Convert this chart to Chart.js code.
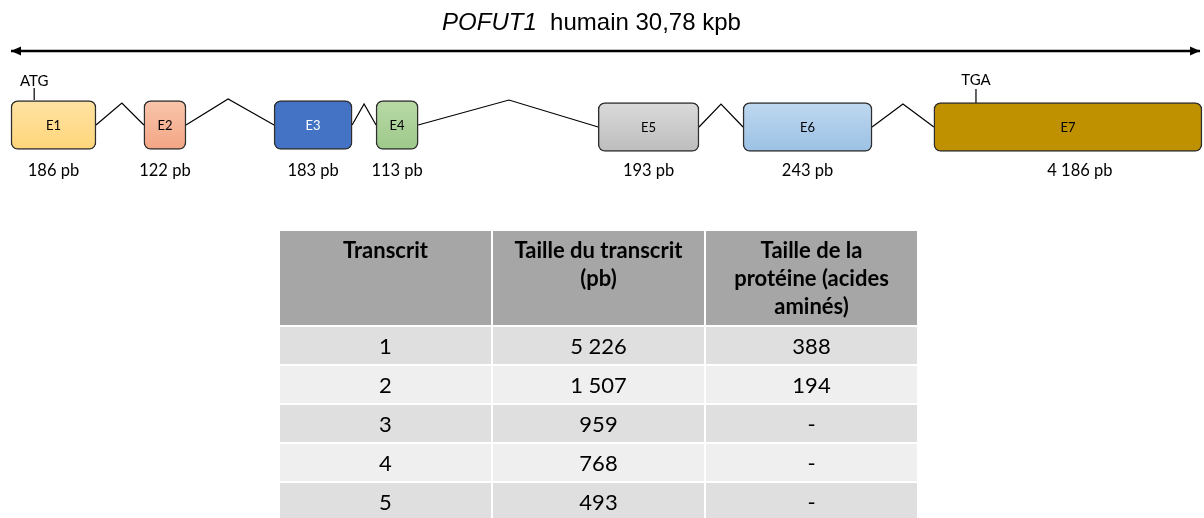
<!DOCTYPE html>
<html>
<head>
<meta charset="utf-8">
<script src="https://cdn.jsdelivr.net/npm/chart.js@4.4.1/dist/chart.umd.min.js"></script>
<style>
  html, body { margin: 0; padding: 0; background: #ffffff; }
  #wrap { position: relative; width: 1204px; height: 518px; overflow: hidden; background: #fff; }
  #c { position: absolute; left: 0; top: 0; }
  #title { position: absolute; left: 0; top: 8px; width: 1183px; text-align: center;
           font-family: "Liberation Sans", Arial, sans-serif; font-size: 24px; line-height: 28px; color: #000; white-space: pre; }
  #title i { font-style: italic; }
  #tbl { position: absolute; left: 278px; top: 229px; border-collapse: separate; border-spacing: 2px;
         font-family: Lato, "Open Sans", sans-serif; color: #000; }
  #tbl th { background: #a6a6a6; width: 211px; height: 94px; padding: 5px 2px 0 2px; box-sizing: border-box;
            vertical-align: top; font-weight: bold; font-size: 22px; line-height: 28px; text-align: center; }
  #tbl td { width: 211px; height: 37px; padding: 0; box-sizing: border-box; text-align: center; vertical-align: middle;
            font-size: 22px; line-height: 37px; }
  #tbl tr.odd td { background: #dfdfdf; }
  #tbl tr.even td { background: #efefef; }
</style>
</head>
<body>
<div id="wrap">
  <canvas id="c" width="1204" height="518"></canvas>
  <div id="title"></div>
  <table id="tbl"><thead><tr id="hdr"></tr></thead><tbody id="body"></tbody></table>
</div>
<script>
// ---------------- DATA ----------------
const geneName = "POFUT1";
const geneLabel = "humain 30,78 kpb";
const geneLengthKb = 30.78;

const exonNames = ["E1", "E2", "E3", "E4", "E5", "E6", "E7"];
const exonSizes = [186, 122, 183, 113, 193, 243, 4186];           // pb
// schematic position of each exon along the gene axis (kb, as drawn)
const exonStart = [0.00, 3.44, 6.81, 9.45, 15.20, 18.95, 23.89];
const exonEnd   = [2.20, 4.53, 8.83, 10.54, 17.81, 22.29, 30.83];
// schematic apex of each intron (kb)
const intronApex = [2.87, 5.62, 9.14, 12.89, 18.38, 23.09];
const atgPos = 0.60;
const tgaPos = 24.98;

const tableHeaders = ["Transcrit", "Taille du transcrit<br>(pb)", "Taille de la<br>protéine (acides<br>aminés)"];
const transcripts = ["1", "2", "3", "4", "5"];
const transcriptSizes = [5226, 1507, 959, 768, 493];
const proteinSizes = [388, 194, null, null, null];

// ---------------- LAYOUT / STYLE ----------------
const exonRow = [125, 125, 125, 125, 127, 127, 127];      // vertical track (y units)
const intronApexRow = [103, 99, 104, 100, 104, 104];
const arrowRow = 51, codonLabelRow = 81, sizeLabelRow = 171;
const sizeLabelShiftPx = [0, 0, 0, 0, 0, 0, 12];
const atgTick = [88, 100], tgaTick = [89, 103];
const exonFillTop    = ["#ffe3a3", "#f8c5ab", "#4472c4", "#b9d9a6", "#dadada", "#bfd8ef", "#bf9000"];
const exonFillBottom = ["#ffd57a", "#f3a584", "#4472c4", "#9dc98a", "#bdbdbd", "#9bc1e5", "#bf9000"];
const exonTextColor  = ["#000", "#000", "#fff", "#000", "#000", "#000", "#000"];

function fmt(n) { return String(n).replace(/\B(?=(\d{3})+(?!\d))/g, " "); }

// ---------------- HTML TEXT (title + table) ----------------
document.getElementById("title").innerHTML = "<i>" + geneName + "</i>  " + geneLabel;
document.getElementById("hdr").innerHTML = tableHeaders.map(h => "<th>" + h + "</th>").join("");
document.getElementById("body").innerHTML = transcripts.map((t, i) =>
  '<tr class="' + (i % 2 === 0 ? "odd" : "even") + '"><td>' + t + "</td><td>" + fmt(transcriptSizes[i]) +
  "</td><td>" + (proteinSizes[i] === null ? "-" : fmt(proteinSizes[i])) + "</td></tr>").join("");

// ---------------- CHART ----------------
const pxPerKb = 38.63;
const xMin = -11 / pxPerKb, xMax = (1204 - 11) / pxPerKb;

const datasets = [];

// exons: floating horizontal bars
datasets.push({
  type: "bar",
  indexAxis: "y",
  data: exonNames.map((n, i) => ({ x: [exonStart[i], exonEnd[i]], y: exonRow[i] })),
  barThickness: 49,
  borderRadius: 7,
  borderSkipped: false,
  borderWidth: 1.5,
  borderColor: "#2e2e2e",
  grouped: false,
  order: 1,
  backgroundColor: (ctx) => {
    const i = ctx.dataIndex;
    const chart = ctx.chart;
    if (i === undefined || !chart.chartArea || !chart.scales.y) return exonFillTop[i || 0];
    const yc = chart.scales.y.getPixelForValue(exonRow[i]);
    const g = chart.ctx.createLinearGradient(0, yc - 24.5, 0, yc + 24.5);
    g.addColorStop(0, exonFillTop[i]);
    g.addColorStop(1, exonFillBottom[i]);
    return g;
  }
});

// introns: lines exon end -> apex -> next exon start
intronApex.forEach((ax, i) => {
  datasets.push({
    type: "line",
    indexAxis: "x",
    data: [
      { x: exonEnd[i], y: exonRow[i] },
      { x: ax, y: intronApexRow[i] },
      { x: exonStart[i + 1], y: exonRow[i + 1] }
    ],
    borderColor: "#000",
    borderWidth: 1.2,
    pointRadius: 0,
    tension: 0,
    fill: false,
    order: 2
  });
});

// gene axis arrow line
datasets.push({
  type: "line", indexAxis: "x",
  data: [{ x: 0, y: arrowRow }, { x: geneLengthKb, y: arrowRow }],
  borderColor: "#000", borderWidth: 2.6, pointRadius: 0, fill: false, order: 2
});
// ATG / TGA ticks
[[atgPos, atgTick], [tgaPos, tgaTick]].forEach(([p, t]) => {
  datasets.push({
    type: "line", indexAxis: "x",
    data: [{ x: p, y: t[0] }, { x: p, y: t[1] }],
    borderColor: "#000", borderWidth: 1.2, pointRadius: 0, fill: false, order: 2
  });
});

const labelPlugin = {
  id: "geneLabels",
  afterDatasetsDraw(chart) {
    const { ctx, scales: { x, y } } = chart;
    ctx.save();
    // arrow heads
    const ya = y.getPixelForValue(arrowRow);
    const xl = x.getPixelForValue(0), xr = x.getPixelForValue(geneLengthKb);
    ctx.fillStyle = "#000";
    ctx.beginPath(); ctx.moveTo(xl, ya); ctx.lineTo(xl + 10, ya - 4.5); ctx.lineTo(xl + 10, ya + 4.5); ctx.closePath(); ctx.fill();
    ctx.beginPath(); ctx.moveTo(xr, ya); ctx.lineTo(xr - 10, ya - 4.5); ctx.lineTo(xr - 10, ya + 4.5); ctx.closePath(); ctx.fill();
    // exon labels and sizes
    ctx.textAlign = "center";
    ctx.textBaseline = "middle";
    exonNames.forEach((n, i) => {
      const cx = x.getPixelForValue((exonStart[i] + exonEnd[i]) / 2);
      ctx.fillStyle = exonTextColor[i];
      ctx.font = "13px Lato";
      ctx.fillText(n, cx, y.getPixelForValue(exonRow[i]) + 1);
      ctx.fillStyle = "#000";
      ctx.font = "16.5px Lato";
      ctx.fillText(fmt(exonSizes[i]) + " pb", cx + sizeLabelShiftPx[i], y.getPixelForValue(sizeLabelRow));
    });
    // codons
    ctx.font = "15px Lato";
    ctx.fillText("ATG", x.getPixelForValue(atgPos), y.getPixelForValue(codonLabelRow));
    ctx.fillText("TGA", x.getPixelForValue(tgaPos), y.getPixelForValue(codonLabelRow - 1));
    ctx.restore();
  }
};

new Chart(document.getElementById("c"), {
  type: "bar",
  data: { datasets },
  options: {
    responsive: false,
    animation: false,
    devicePixelRatio: 1,
    events: [],
    layout: { padding: 0 },
    plugins: { legend: { display: false }, tooltip: { enabled: false } },
    scales: {
      x: { type: "linear", min: xMin, max: xMax, display: false, offset: false, grid: { display: false } },
      y: { type: "linear", min: 0, max: 518, reverse: true, display: false, offset: false, grid: { display: false } }
    }
  },
  plugins: [labelPlugin]
});
</script>
</body>
</html>
